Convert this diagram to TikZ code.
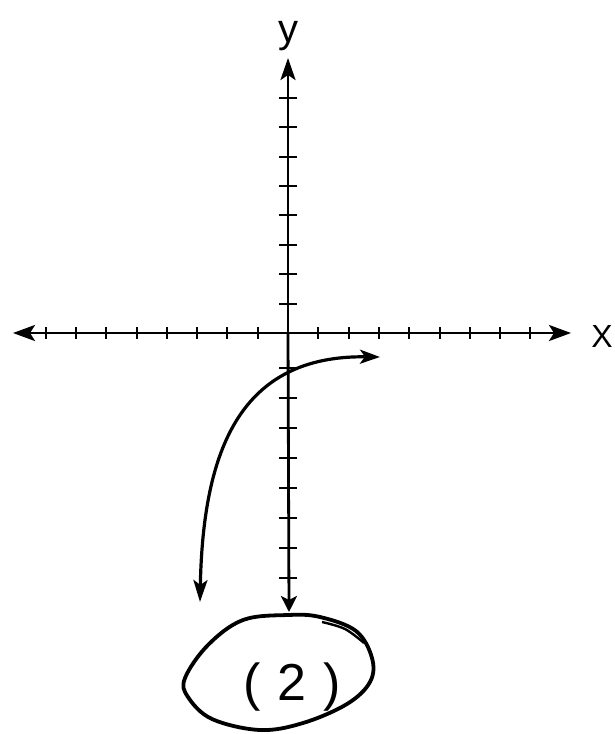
\documentclass[tikz,border=0pt]{standalone}
\usepackage{fontspec}
\setmainfont{Liberation Sans}
\usetikzlibrary{arrows.meta,calc}
\begin{document}
\begin{tikzpicture}[x=1pt,y=-1pt,
  axis/.style={line width=2.8pt,black},
  tickmark/.style={line width=2pt,black},
  headtip/.style={-{Stealth[length=22pt,width=15pt,inset=5pt]}},
  curvestroke/.style={line width=3.2pt,black},
  blobstroke/.style={line width=3.8pt,black,line join=round},
  lbl/.style={inner sep=0pt,anchor=base}]
\useasboundingbox (0,0) rectangle (614,734);
% axis end points
\coordinate (O) at (288,333);
\coordinate (xl) at (13,333);
\coordinate (xr) at (571,333);
\coordinate (yt) at (288,58);
\coordinate (yb) at (289,612);
% axes
\draw[axis,{Stealth[length=22pt,width=16pt,inset=5pt]}-{Stealth[length=22pt,width=16pt,inset=5pt]}] (xl) -- (xr);
\draw[axis,headtip] (O) -- (yt);
\draw[axis,-{Stealth[length=16pt,width=16pt,inset=4pt]}] (O) -- (yb);
% ticks on x axis
\foreach \k in {-8,...,-1,1,2,...,8}{
  \draw[tickmark] ($(O)+(30.3*\k,-6)$) -- ($(O)+(30.3*\k,6)$);
}
% ticks on y axis (up)
\foreach \k in {1,...,8}{
  \draw[tickmark] ($(O)+(-9,-29.4*\k)$) -- ($(O)+(9,-29.4*\k)$);
}
% ticks on y axis (down)
\foreach \k in {1,...,8}{
  \draw[tickmark] ($(O)+(-9,5+30*\k)$) -- ($(O)+(9,5+30*\k)$);
}
% labels
\node[lbl,font=\fontsize{40}{40}\selectfont] (ylab) at (288,42) {y};
\node[lbl,font=\fontsize{32}{32}\selectfont] (xlab) at (602,347) {X};
% curved double arrow
\coordinate (cstart) at (200,602);
\coordinate (cend) at (380,357);
\draw[curvestroke,{Stealth[length=22pt,width=14pt,inset=5pt]}-{Stealth[length=20pt,width=14pt,inset=5pt]}]
  (cstart) .. controls (203,450) and (240,355) .. (cend);
% blob
\draw[blobstroke] plot[smooth cycle,tension=0.6] coordinates {
  (288,615) (320,617) (356,631) (372,658) (370,682) (347,704) (303,723)
  (260,730) (212,719) (188,697) (185,678) (208,645) (243,620)};
\draw[line width=2.4pt,black] plot[smooth,tension=0.6] coordinates {(322,622) (345,629) (364,643)};
\node[inner sep=0pt,font=\fontsize{52}{52}\selectfont] (label2) at (292,687) {(\kern17pt 2\kern17pt)};
\end{tikzpicture}
\end{document}
